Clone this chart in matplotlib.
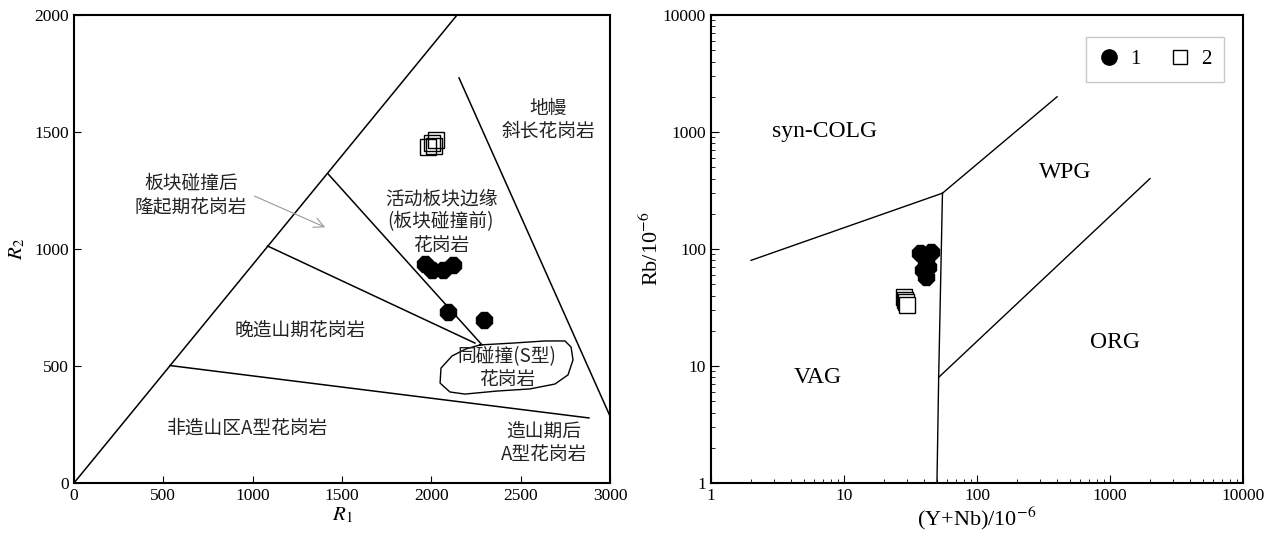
import numpy as np
import matplotlib
matplotlib.use("Agg")
import matplotlib.pyplot as plt
from matplotlib.lines import Line2D

plt.rcParams['font.family'] = ['Liberation Serif', 'DejaVu Serif']
plt.rcParams['mathtext.fontset'] = 'stix'
CJK = ['Noto Sans CJK SC', 'DejaVu Sans']

# ---- left: R1-R2 diagram data ----
r1_grp1 = [1965, 2004, 2066, 2121, 2093, 2295]
r2_grp1 = [936, 910, 910, 932, 731, 697]
r1_grp2 = [1981, 2004, 2026, 2015]
r2_grp2 = [1436, 1453, 1466, 1440]

# field boundaries (R1, R2)
bound_lines = [
    ([0, 2144], [0, 2000]),
    ([537, 2882], [502, 278]),
    ([1083, 2244], [1013, 598]),
    ([1422, 2284], [1321, 590]),
    ([2155, 3000], [1731, 286]),
]
# syn-collision field outline
blob_r1 = [2272, 2457, 2636, 2748, 2782, 2793, 2765, 2692, 2552, 2368, 2188, 2104, 2049, 2054, 2116, 2194, 2272]
blob_r2 = [590, 598, 607, 607, 581, 526, 462, 423, 402, 393, 380, 389, 427, 491, 543, 573, 590]

left_labels = [
    (2653, 1551, '地幔\n斜长花岗岩'),
    (655, 1231, '板块碰撞后\n隆起期花岗岩'),
    (2054, 1115, '活动板块边缘\n(板块碰撞前)\n花岗岩'),
    (1265, 654, '晚造山期花岗岩'),
    (2425, 493, '同碰撞(S型)\n花岗岩'),
    (974, 235, '非造山区A型花岗岩'),
    (2631, 171, '造山期后\nA型花岗岩'),
]

# ---- right: Rb vs Y+Nb data ----
ynb_grp1 = [37, 45, 41, 39, 41, 43]
rb_grp1 = [92, 95, 74, 66, 58, 70]
ynb_grp2 = [28.5, 29, 29.5, 30]
rb_grp2 = [39, 37, 35, 33]

pearce_lines = [
    ([2, 55], [80, 300]),
    ([55, 400], [300, 2000]),
    ([55, 51.5, 50], [300, 8, 1]),
    ([51.5, 2000], [8, 400]),
]
right_labels = [
    (7.2, 1000, 'syn-COLG'),
    (460, 455, 'WPG'),
    (1090, 16, 'ORG'),
    (6.3, 7.9, 'VAG'),
]

fig = plt.figure(figsize=(12.79, 5.34), dpi=100)
ax1 = fig.add_axes([74/1279, 1-483/534, (610-74)/1279, 468/534])
ax2 = fig.add_axes([711/1279, 1-483/534, (1243-711)/1279, 468/534])

# left panel
for xs, ys in bound_lines:
    ax1.plot(xs, ys, color='k', lw=1.1)
ax1.plot(blob_r1, blob_r2, color='k', lw=1.0, solid_joinstyle='round')
ax1.plot(r1_grp1, r2_grp1, ls='', marker='8', ms=13, color='k')
ax1.plot(r1_grp2, r2_grp2, ls='', marker='s', ms=11, mfc='none', mec='k', mew=1.0)
for x, y, t in left_labels:
    ax1.text(x, y, t, ha='center', va='center', fontsize=13.5, family=CJK,
             linespacing=1.12, color='#222222')
ax1.annotate('', xy=(1420, 1088), xytext=(996, 1231),
             arrowprops=dict(arrowstyle='->', color='#999999', lw=0.8,
                             mutation_scale=18))
ax1.set_xlim(0, 3000)
ax1.set_ylim(0, 2000)
ax1.set_xticks(np.arange(0, 3001, 500))
ax1.set_yticks(np.arange(0, 2001, 500))
ax1.tick_params(direction='in', labelsize=12.5, length=5)
ax1.set_xlabel('$R_1$', fontsize=15, labelpad=1)
ax1.set_ylabel('$R_2$', fontsize=15, labelpad=5)

# right panel
for xs, ys in pearce_lines:
    ax2.plot(xs, ys, color='k', lw=1.0)
ax2.plot(ynb_grp1, rb_grp1, ls='', marker='8', ms=13, color='k')
ax2.plot(ynb_grp2, rb_grp2, ls='', marker='s', ms=11, mfc='w', mec='k', mew=1.0)
for x, y, t in right_labels:
    ax2.text(x, y, t, ha='center', va='center', fontsize=17)
ax2.set_xscale('log')
ax2.set_yscale('log')
ax2.set_xlim(1, 10000)
ax2.set_ylim(1, 10000)
ticks = [1, 10, 100, 1000, 10000]
ax2.set_xticks(ticks)
ax2.set_xticklabels([str(t) for t in ticks])
ax2.set_yticks(ticks)
ax2.set_yticklabels([str(t) for t in ticks])
ax2.tick_params(which='major', direction='in', labelsize=12.5, length=6)
ax2.tick_params(which='minor', direction='in', length=3)
ax2.set_xlabel('(Y+Nb)/10$^{-6}$', fontsize=16, labelpad=1)
ax2.set_ylabel('Rb/10$^{-6}$', fontsize=16, labelpad=0)

handles = [Line2D([], [], ls='', marker='o', ms=11, color='k'),
           Line2D([], [], ls='', marker='s', ms=10, mfc='w', mec='k')]
leg = ax2.legend(handles, ['1', '2'], ncol=2, loc='upper right',
                 bbox_to_anchor=(0.964, 0.953), borderaxespad=0,
                 fontsize=15, fancybox=False, edgecolor='#bbbbbb',
                 borderpad=0.6, columnspacing=1.4, handletextpad=0.5,
                 handlelength=1.0)
leg.get_frame().set_linewidth(1.0)

for ax in (ax1, ax2):
    for s in ax.spines.values():
        s.set_linewidth(1.5)

fig.savefig('out.png', dpi=100)
